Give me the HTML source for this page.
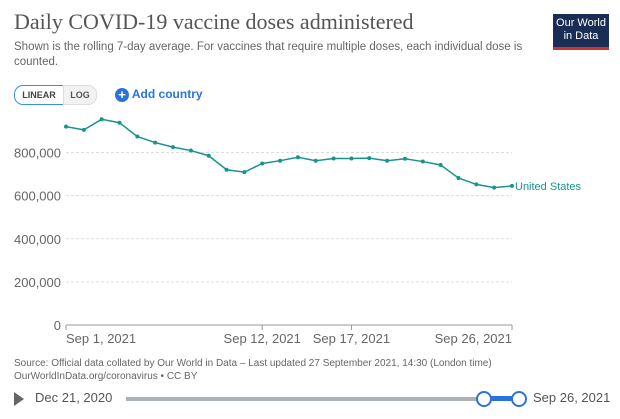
<!DOCTYPE html>
<html><head><meta charset="utf-8"><style>
body{margin:0;width:620px;height:419px;background:#fff;overflow:hidden;font-family:"Liberation Sans",sans-serif;position:relative}
.t{position:absolute;white-space:nowrap}
</style></head><body>
<div class="t" style="left:14px;top:9px;font-family:'Liberation Serif',serif;font-size:22px;color:#555">Daily COVID-19 vaccine doses administered</div>
<div class="t" style="left:14px;top:40px;font-size:11.5px;line-height:15px;color:#666;white-space:normal;width:530px">Shown is the rolling 7-day average. For vaccines that require multiple doses, each individual dose is counted.</div>
<div class="t" style="left:553px;top:14px;width:56px;height:36px;background:#1a2e55;color:#fff;font-size:11px;line-height:13px;text-align:center;padding-top:3px;box-sizing:border-box;border-bottom:3px solid #c33">Our World<br>in Data</div>
<div class="t" style="left:14px;top:85px;width:48px;height:18px;border:1px solid #3a8ee6;border-radius:9px 0 0 9px;font-size:9px;font-weight:bold;color:#444;text-align:center;line-height:18px">LINEAR</div>
<div class="t" style="left:63px;top:85px;width:32px;height:18px;border:1px solid #ddd;border-radius:0 9px 9px 0;background:#f2f2f2;font-size:9px;font-weight:bold;color:#555;text-align:center;line-height:18px">LOG</div>
<div class="t" style="left:115px;top:85px;font-size:12px;font-weight:bold;color:#2a74d9;line-height:18px"><span style="display:inline-block;width:14px;height:14px;border-radius:7px;background:#2a74d9;color:#fff;text-align:center;line-height:14px;font-size:13px;vertical-align:-1px">+</span> Add country</div>
<svg class="t" style="left:0;top:0" width="620" height="419">
<g id="grid"></g><g id="series"></g>
</svg>
<div class="t" style="left:14px;top:357px;font-size:10px;line-height:13px;color:#666">Source: Official data collated by Our World in Data – Last updated 27 September 2021, 14:30 (London time)<br>OurWorldInData.org/coronavirus • CC BY</div>
<div class="t" style="left:14px;top:392px;width:0;height:0;border-left:10px solid #666;border-top:7px solid transparent;border-bottom:7px solid transparent"></div>
<div class="t" style="left:35px;top:390px;font-size:13px;color:#555">Dec 21, 2020</div>
<div class="t" style="left:126px;top:397px;width:358px;height:4px;background:#aab2b8"></div>
<div class="t" style="left:484px;top:396px;width:35px;height:5px;background:#2a74d9"></div>
<div class="t" style="left:476px;top:391px;width:12px;height:12px;border:2px solid #2a74d9;border-radius:8px;background:#fff"></div>
<div class="t" style="left:511px;top:391px;width:12px;height:12px;border:2px solid #2a74d9;border-radius:8px;background:#fff"></div>
<div class="t" style="left:533px;top:390px;font-size:13px;color:#555">Sep 26, 2021</div>
<script>
const days=[1,2,3,4,5,6,7,8,9,10,11,12,13,14,15,16,17,18,19,20,21,22,23,24,25,26];
const doses=[920000,905000,954000,938000,874000,846000,825000,809000,785000,720000,709000,749000,762000,778000,762000,772000,772000,774000,762000,771000,758000,742000,682000,652000,637000,645000];
const yTicks=[0,200000,400000,600000,800000];
const xTickDays=[1,12,17,26];
const xTickLabels=["Sep 1, 2021","Sep 12, 2021","Sep 17, 2021","Sep 26, 2021"];
const NS="http://www.w3.org/2000/svg";
const X=d=>66+(d-1)*(512-66)/25;
const Y=v=>325-v*(325-152.5)/800000;
function mk(t,a,p){const e=document.createElementNS(NS,t);for(const k in a)e.setAttribute(k,a[k]);p.appendChild(e);return e;}
const g=document.getElementById('grid'),s=document.getElementById('series');
yTicks.forEach(v=>{
 if(v>0){const l=mk('line',{x1:66,x2:512,y1:Y(v),y2:Y(v),stroke:'#ddd','stroke-dasharray':'3,2'},g);
 
 }
 const t=mk('text',{x:61,y:Y(v)+5,'text-anchor':'end','font-size':13,fill:'#666','font-family':'Liberation Sans, sans-serif'},g);
 t.textContent=v.toLocaleString('en-US');
 
 
});
const ax=mk('line',{x1:66,x2:512,y1:325,y2:325,stroke:'#999'},g);


xTickDays.forEach((d,i)=>{
 const tk=mk('line',{x1:X(d),x2:X(d),y1:325,y2:330,stroke:'#999'},g);
 
 
 const t=mk('text',{x:X(d),y:343,'text-anchor':i==0?'start':(i==3?'end':'middle'),'font-size':13,fill:'#666','font-family':'Liberation Sans, sans-serif'},g);
 t.textContent=xTickLabels[i];
 
 
});
const pl=mk('polyline',{points:days.map((d,i)=>X(d)+','+Y(doses[i])).join(' '),fill:'none',stroke:'#17958c','stroke-width':1.5},s);


days.forEach((d,i)=>{const c=mk('circle',{cx:X(d),cy:Y(doses[i]),r:2,fill:'#17958c'},s);
 
 });
const lb=mk('text',{x:X(days[days.length-1])+3,y:Y(doses[doses.length-1])+4,'font-size':11,fill:'#17958c','font-family':'Liberation Sans, sans-serif'},s);
lb.textContent='United States';


</script>
</body></html>
